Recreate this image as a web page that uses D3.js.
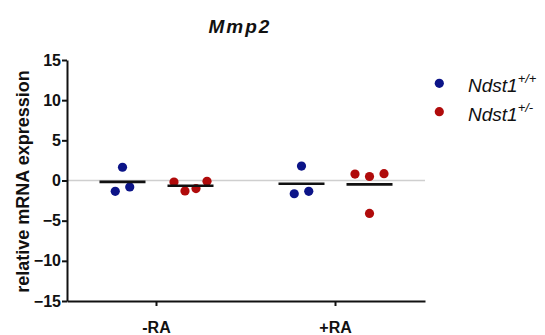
<!DOCTYPE html>
<html>
<head>
<meta charset="utf-8">
<script src="https://cdn.jsdelivr.net/npm/d3@7"></script>
<style>
  body { margin: 0; background: #fff; }
  text { font-family: "Liberation Sans", Arial, sans-serif; fill: #111; }
</style>
</head>
<body>
<figure id="dots" style="margin:0"></figure>
<script>
// data
const groups = ["-RA", "+RA"];
const series = ["wt", "het"];
const seriesNames = ["+/+", "+/-"];
const seriesColors = ["#0c1488", "#b00b0b"];
const yTicks = [-15, -10, -5, 0, 5, 10, 15];

const wtValues = {
  "-RA": [-1.35, 1.65, -0.8],
  "+RA": [-1.65, 1.8, -1.35]
};
const hetValues = {
  "-RA": [-0.2, -1.3, -1.0, -0.1],
  "+RA": [0.8, 0.5, 0.85, -4.1]
};

const width = 545, height = 335;
const margin = { top: 60, right: 120, bottom: 34, left: 67 };

const svg = d3.select("figure#dots")
  .append("svg")
  .attr("width", width)
  .attr("height", height);

const x = d3.scaleBand()
  .domain(groups)
  .range([margin.left, width - margin.right])
  .padding(0);

const xSub = d3.scalePoint()
  .domain(series)
  .range([0, x.bandwidth()])
  .padding(0.816);

const y = d3.scaleLinear()
  .domain([-15, 15])
  .range([height - margin.bottom, margin.top]);

// zero line
svg.append("line")
  .attr("x1", x.range()[0]).attr("x2", x.range()[1])
  .attr("y1", y(0)).attr("y2", y(0))
  .attr("stroke", "#cfcfcf")
  .attr("stroke-width", 1.5);

// axes
const yAxis = svg.append("g")
  .attr("transform", "translate(" + margin.left + ",0)")
  .call(d3.axisLeft(y).tickValues(yTicks).tickSize(5).tickSizeOuter(0).tickPadding(1));

const xAxis = svg.append("g")
  .attr("transform", "translate(0," + y(-15) + ")")
  .call(d3.axisBottom(x).tickSize(5).tickSizeOuter(0).tickPadding(16));

[yAxis, xAxis].forEach(g => {
  g.selectAll("path, line").attr("stroke", "#111").attr("stroke-width", 2);
  g.selectAll("text")
    .style("font-family", "'Liberation Sans', Arial, sans-serif")
    .style("font-weight", "bold")
    .style("font-size", "16px")
    .attr("fill", "#111");
});

// spread points of one column into rows, like a column scatter
function spread(values, cx) {
  const pts = values.map((v, i) => ({ v, i, py: y(v) }));
  const sorted = pts.slice().sort((a, b) => a.py - b.py);
  const rows = [];
  sorted.forEach(p => {
    const row = rows.find(r => Math.abs(r[0].py - p.py) < 11);
    if (row) row.push(p); else rows.push([p]);
  });
  rows.forEach(r => {
    r.sort((a, b) => a.i - b.i);
    const step = r.length > 3 ? 11 : 14.5;
    r.forEach((p, k) => { p.px = cx + (k - (r.length - 1) / 2) * step; });
  });
  return pts;
}

const allValues = [wtValues, hetValues];

groups.forEach(g => {
  series.forEach((s, si) => {
    const cx = x(g) + xSub(s);
    const vals = allValues[si][g];
    const pts = spread(vals, cx);

    svg.append("g").selectAll("circle")
      .data(pts)
      .enter()
      .append("circle")
      .attr("cx", d => d.px)
      .attr("cy", d => d.py)
      .attr("r", 4.6)
      .attr("fill", seriesColors[si]);

    // mean bar
    const m = d3.mean(vals);
    svg.append("line")
      .attr("x1", cx - 23).attr("x2", cx + 23)
      .attr("y1", y(m)).attr("y2", y(m))
      .attr("stroke", "#111")
      .attr("stroke-width", 2.6);
  });
});

// title
svg.append("text")
  .attr("x", 240)
  .attr("y", 33)
  .attr("text-anchor", "middle")
  .style("font-size", "19px")
  .style("font-weight", "bold")
  .style("font-style", "italic")
  .style("letter-spacing", "2px")
  .text("Mmp2");

// y label
svg.append("text")
  .attr("transform", "translate(28.5,181.5) rotate(-90)")
  .attr("text-anchor", "middle")
  .style("font-size", "18px")
  .style("font-weight", "bold")
  .text("relative mRNA expression");

// legend
const legend = svg.append("g");
series.forEach((s, i) => {
  const ly = 83.3 + i * 28.4;
  legend.append("circle")
    .attr("cx", 439.3).attr("cy", ly).attr("r", 4.6)
    .attr("fill", seriesColors[i]);
  const t = legend.append("text")
    .attr("x", 468).attr("y", ly + 9)
    .style("font-size", "19px")
    .style("font-style", "italic");
  t.append("tspan").text("Ndst1");
  t.append("tspan")
    .attr("dy", -9)
    .style("font-size", "13px")
    .text(seriesNames[i]);
});
</script>
</body>
</html>
